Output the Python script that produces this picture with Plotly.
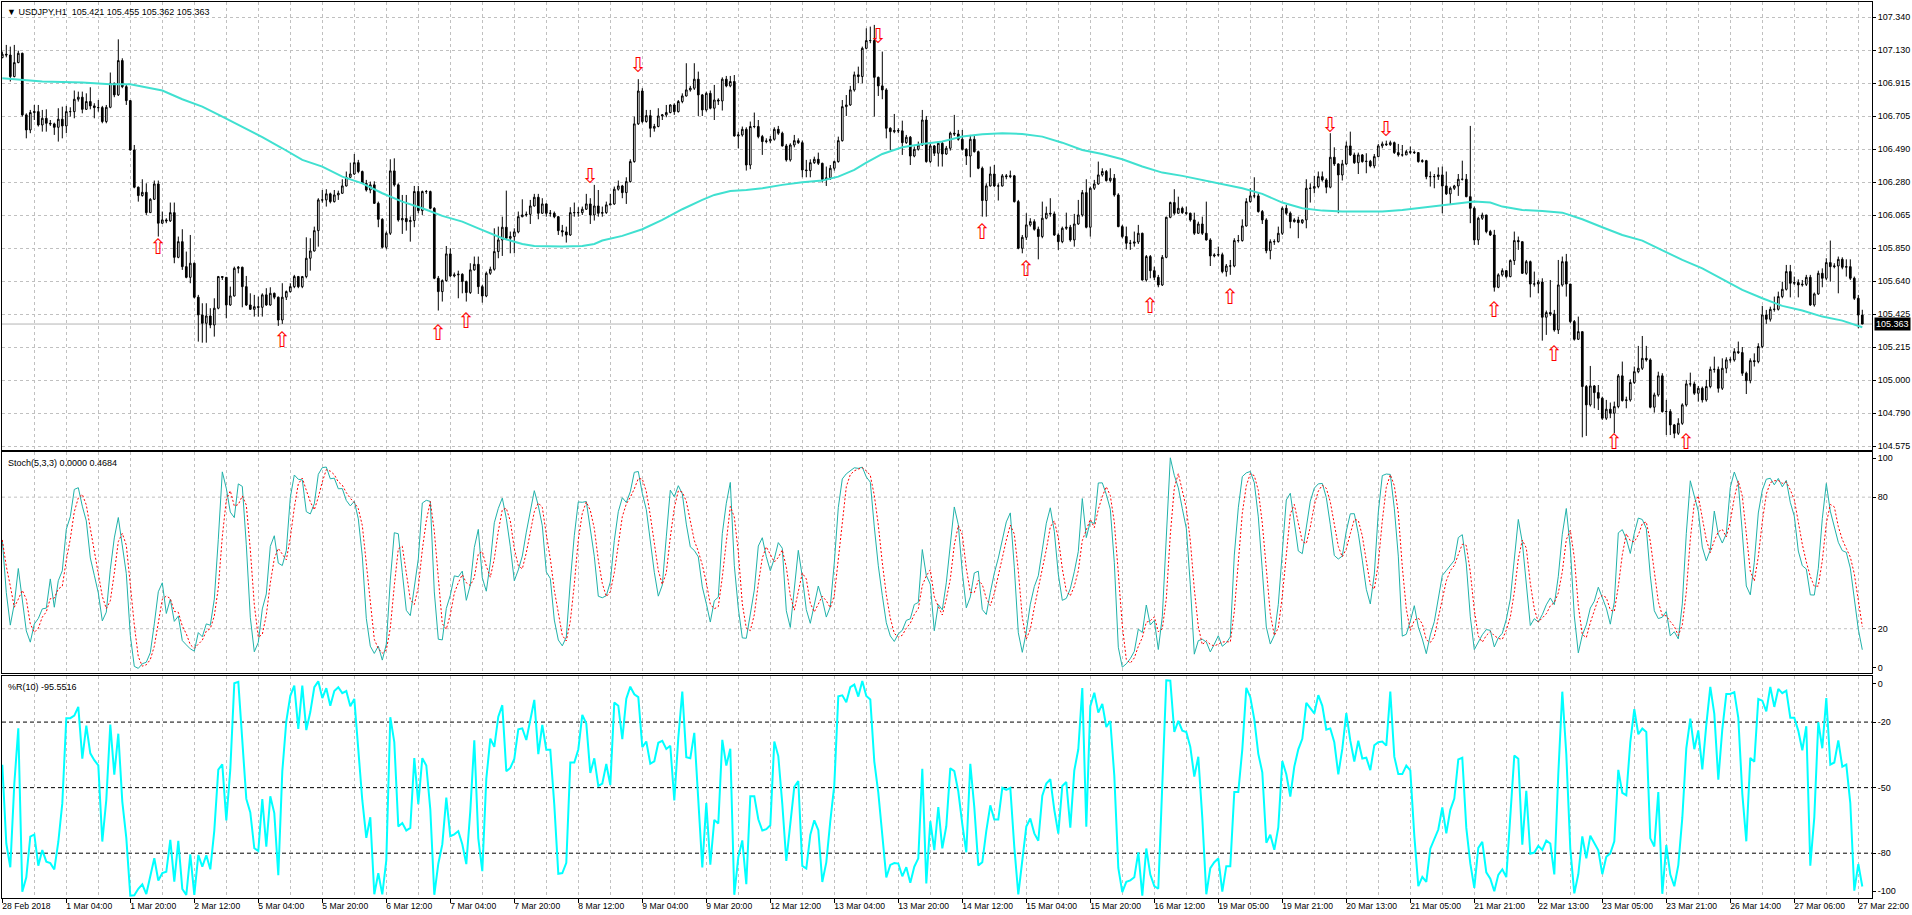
import numpy as np
import pandas as pd
import plotly.graph_objects as go

# ---------------- data (USDJPY H1) ----------------
first_open = 107.080
closes = [
107.102,107.097,106.958,107.048,107.108,106.711,106.614,106.726,106.732,106.646,
106.689,106.657,106.653,106.631,106.683,106.640,106.732,106.732,106.812,106.825,
106.747,106.797,106.769,106.758,106.758,106.668,106.760,106.915,106.840,107.061,
106.893,106.803,106.485,106.245,106.191,106.212,106.081,106.167,106.266,106.013,
106.034,106.028,106.081,105.793,105.894,105.733,105.664,105.755,105.536,105.422,
105.368,105.415,105.357,105.465,105.669,105.664,105.486,105.544,105.722,105.729,
105.604,105.486,105.458,105.475,105.471,105.551,105.486,105.561,105.536,105.389,
105.536,105.572,105.604,105.669,105.604,105.669,105.787,105.834,105.965,106.163,
106.163,106.202,106.152,106.195,106.206,106.253,106.309,106.330,106.403,106.346,
106.270,106.227,106.260,106.141,106.038,105.858,105.948,106.350,106.260,106.034,
106.043,106.023,106.030,106.217,106.094,106.217,106.217,106.109,105.658,105.572,
105.643,105.815,105.673,105.680,105.684,105.637,105.566,105.712,105.748,105.604,
105.544,105.690,105.716,105.830,105.905,105.987,105.916,105.927,105.957,106.055,
106.066,106.070,106.124,106.180,106.077,106.137,106.077,106.077,106.055,105.965,
105.957,105.937,106.081,106.081,106.081,106.103,106.137,106.066,106.124,106.077,
106.081,106.131,106.137,106.232,106.253,106.210,106.281,106.410,106.653,106.865,
106.668,106.706,106.625,106.636,106.704,106.711,106.726,106.775,106.732,106.797,
106.833,106.872,106.883,106.941,106.840,106.743,106.850,106.754,106.807,106.801,
106.941,106.898,106.926,106.575,106.582,106.618,106.388,106.636,106.636,106.571,
106.539,106.543,106.554,106.618,106.593,106.511,106.421,106.517,106.545,106.532,
106.356,106.352,106.403,106.425,106.399,106.296,106.305,106.367,106.410,106.545,
106.764,106.775,106.872,106.969,106.958,107.140,107.190,107.190,106.953,106.898,
106.872,106.625,106.603,106.610,106.608,106.532,106.567,106.446,106.489,106.517,
106.678,106.410,106.511,106.464,106.528,106.459,106.496,106.593,106.588,106.554,
106.489,106.446,106.554,106.474,106.367,106.159,106.253,106.330,106.253,106.253,
106.318,106.313,106.318,106.152,105.851,105.922,106.002,106.023,105.974,105.927,
106.045,106.077,106.073,105.937,105.894,105.980,105.987,105.905,106.008,106.066,
106.210,105.987,106.238,106.266,106.324,106.346,106.288,106.303,106.195,105.991,
105.927,105.884,105.884,105.892,105.948,105.647,105.798,105.707,105.664,105.615,
105.793,106.051,106.146,106.077,106.109,106.081,106.077,106.034,105.948,106.008,
105.948,105.905,105.802,105.808,105.810,105.701,105.737,105.737,105.901,105.901,
105.995,106.152,106.189,106.189,106.088,106.034,105.836,105.894,105.894,105.948,
106.109,106.077,106.023,106.034,106.017,106.034,106.238,106.238,106.249,106.313,
106.292,106.245,106.438,106.395,106.324,106.395,106.511,106.453,106.403,106.453,
106.410,106.412,106.382,106.442,106.511,106.524,106.519,106.532,106.468,106.453,
106.453,106.474,106.470,106.468,106.410,106.416,106.313,106.313,106.313,106.324,
106.253,106.202,106.238,106.253,106.296,106.296,106.184,106.109,105.905,106.045,
106.066,105.959,105.937,105.600,105.680,105.707,105.669,105.772,105.901,105.894,
105.690,105.765,105.621,105.621,105.634,105.407,105.437,105.428,105.325,105.615,
105.765,105.621,105.379,105.265,105.314,104.960,104.842,104.964,104.921,104.885,
104.756,104.814,104.788,104.831,105.029,104.870,104.874,104.986,105.056,105.078,
105.142,105.132,104.827,104.906,105.029,104.799,104.799,104.713,104.659,104.723,
104.842,104.977,104.977,104.917,104.949,104.874,104.960,105.071,105.071,104.949,
105.078,105.132,105.132,105.185,105.179,105.046,104.998,105.127,105.121,105.218,
105.422,105.394,105.458,105.458,105.540,105.587,105.701,105.626,105.630,105.615,
105.619,105.664,105.486,105.557,105.690,105.658,105.759,105.733,105.737,105.780,
105.729,105.733,105.658,105.529,105.421,105.363]
highs = [
107.119,107.162,107.151,107.162,107.125,107.112,106.721,106.743,106.775,106.775,
106.743,106.747,106.678,106.661,106.754,106.764,106.769,106.760,106.868,106.861,
106.861,106.850,106.889,106.786,106.807,106.769,106.775,106.984,106.919,107.198,
107.076,106.904,106.807,106.517,106.249,106.296,106.270,106.174,106.288,106.288,
106.088,106.045,106.146,106.146,105.927,105.974,105.830,105.937,105.759,105.551,
105.497,105.497,105.465,105.529,105.673,105.671,105.579,105.604,105.733,105.737,
105.733,105.673,105.561,105.551,105.540,105.561,105.594,105.600,105.566,105.540,
105.626,105.579,105.626,105.680,105.673,105.673,105.922,105.916,105.991,106.174,
106.227,106.232,106.210,106.227,106.223,106.296,106.346,106.403,106.459,106.421,
106.352,106.292,106.281,106.283,106.152,106.045,105.959,106.425,106.431,106.270,
106.195,106.195,106.056,106.253,106.253,106.223,106.227,106.223,106.116,105.673,
105.651,105.866,105.851,105.695,105.707,105.690,105.643,105.755,105.798,105.798,
105.615,105.701,105.733,105.980,105.991,106.055,106.223,105.959,105.980,106.088,
106.167,106.088,106.163,106.202,106.202,106.174,106.141,106.098,106.088,106.060,
106.002,105.991,106.116,106.146,106.116,106.120,106.202,106.174,106.260,106.227,
106.120,106.152,106.202,106.249,106.288,106.260,106.309,106.425,106.700,106.941,
106.883,106.743,106.743,106.653,106.754,106.717,106.775,106.779,106.786,106.807,
106.850,107.044,106.898,107.044,106.990,106.846,106.861,106.868,106.904,106.818,
106.953,106.962,106.962,106.968,106.603,106.636,106.631,106.668,106.726,106.678,
106.582,106.560,106.575,106.631,106.640,106.603,106.524,106.528,106.582,106.560,
106.545,106.421,106.425,106.442,106.468,106.403,106.378,106.388,106.416,106.571,
106.807,106.839,106.898,106.990,107.022,107.151,107.269,107.280,107.291,106.958,
107.119,106.883,106.631,106.717,106.625,106.674,106.582,106.575,106.507,106.539,
106.743,106.704,106.524,106.517,106.539,106.539,106.511,106.603,106.711,106.614,
106.614,106.496,106.582,106.582,106.481,106.378,106.270,106.378,106.388,106.270,
106.330,106.330,106.352,106.324,106.163,105.937,106.077,106.045,106.038,105.991,
106.152,106.120,106.174,106.088,105.948,105.991,106.081,106.002,106.073,106.163,
106.227,106.296,106.249,106.292,106.410,106.367,106.356,106.367,106.330,106.206,
106.002,105.991,105.905,105.959,106.002,105.952,105.808,105.808,105.733,105.680,
105.808,106.055,106.152,106.232,106.184,106.120,106.120,106.081,106.081,106.023,
106.055,106.152,105.916,105.819,105.862,105.823,105.750,105.776,105.916,105.937,
106.038,106.174,106.238,106.309,106.206,106.098,106.045,105.909,105.909,105.991,
106.120,106.131,106.088,106.045,106.055,106.038,106.296,106.270,106.318,106.346,
106.346,106.303,106.593,106.502,106.399,106.421,106.539,106.603,106.468,106.468,
106.459,106.464,106.421,106.459,106.524,106.539,106.545,106.545,106.539,106.524,
106.517,106.485,106.507,106.481,106.468,106.425,106.421,106.346,106.330,106.373,
106.378,106.346,106.249,106.260,106.330,106.416,106.330,106.640,106.120,106.055,
106.081,106.066,105.970,105.970,105.690,105.722,105.712,105.780,105.959,105.927,
105.862,105.776,105.772,105.701,105.647,105.658,105.450,105.647,105.454,105.776,
105.798,105.815,105.615,105.389,105.411,105.314,104.970,105.093,104.970,104.970,
104.895,104.874,104.857,104.863,105.041,105.121,104.895,105.007,105.089,105.222,
105.286,105.222,105.142,104.921,105.056,105.046,104.874,104.814,104.719,104.756,
104.852,105.003,105.050,104.992,104.964,104.960,105.003,105.089,105.153,105.089,
105.142,105.149,105.149,105.207,105.250,105.215,105.056,105.142,105.174,105.239,
105.480,105.454,105.475,105.540,105.572,105.636,105.744,105.744,105.669,105.651,
105.647,105.680,105.680,105.566,105.707,105.722,105.787,105.901,105.755,105.798,
105.793,105.780,105.780,105.669,105.551,105.455]
lows = [
107.076,107.082,106.926,106.953,107.044,106.700,106.560,106.593,106.678,106.636,
106.603,106.603,106.640,106.582,106.539,106.560,106.593,106.700,106.689,106.797,
106.721,106.743,106.747,106.689,106.732,106.657,106.657,106.754,106.825,106.833,
106.883,106.775,106.481,106.238,106.152,106.184,106.066,106.088,106.163,105.927,
106.008,106.013,106.021,105.755,105.787,105.712,105.658,105.626,105.529,105.250,
105.243,105.243,105.336,105.282,105.458,105.647,105.400,105.480,105.540,105.690,
105.471,105.480,105.454,105.411,105.411,105.411,105.480,105.480,105.523,105.351,
105.364,105.518,105.566,105.594,105.594,105.594,105.658,105.707,105.830,105.862,
106.146,106.120,106.141,106.146,106.163,106.202,106.249,106.303,106.324,106.335,
106.266,106.217,106.206,106.137,105.987,105.851,105.845,105.937,106.249,106.023,
105.944,105.965,105.894,105.987,106.077,106.066,106.202,106.103,105.652,105.450,
105.508,105.636,105.664,105.664,105.529,105.561,105.508,105.557,105.707,105.557,
105.501,105.536,105.680,105.707,105.787,105.802,105.905,105.819,105.819,105.948,
106.051,106.055,106.008,106.120,106.038,106.073,106.055,106.055,106.045,105.937,
105.927,105.888,105.931,106.055,106.055,106.066,106.098,106.008,106.030,106.055,
106.055,106.073,106.128,106.131,106.223,106.174,106.137,106.275,106.403,106.646,
106.657,106.661,106.567,106.603,106.631,106.678,106.696,106.721,106.711,106.726,
106.786,106.829,106.861,106.872,106.704,106.704,106.732,106.747,106.678,106.775,
106.739,106.889,106.889,106.571,106.496,106.571,106.352,106.361,106.625,106.560,
106.453,106.528,106.528,106.545,106.582,106.507,106.410,106.410,106.502,106.524,
106.309,106.309,106.309,106.395,106.388,106.275,106.253,106.292,106.352,106.403,
106.539,106.704,106.769,106.861,106.915,106.915,107.134,107.173,106.700,106.833,
106.812,106.560,106.485,106.593,106.593,106.453,106.524,106.388,106.438,106.481,
106.511,106.403,106.399,106.446,106.378,106.378,106.453,106.481,106.575,106.545,
106.481,106.388,106.309,106.468,106.361,106.055,106.055,106.249,106.245,106.159,
106.249,106.296,106.303,106.146,105.845,105.819,105.905,105.991,105.965,105.780,
105.916,106.038,106.055,105.931,105.841,105.884,105.970,105.894,105.862,106.002,
106.055,105.980,105.927,106.227,106.260,106.313,106.281,106.275,106.184,105.987,
105.916,105.845,105.841,105.862,105.879,105.643,105.636,105.658,105.647,105.600,
105.608,105.787,106.045,106.066,106.073,106.073,106.066,106.023,105.937,105.944,
105.937,105.901,105.737,105.793,105.798,105.690,105.669,105.680,105.729,105.888,
105.894,105.991,106.146,106.174,106.081,106.008,105.819,105.780,105.873,105.888,
105.937,106.066,105.980,106.017,105.916,106.008,105.980,106.146,106.206,106.238,
106.281,106.206,106.238,106.382,106.077,106.288,106.388,106.446,106.395,106.330,
106.403,106.335,106.373,106.367,106.438,106.496,106.511,106.511,106.459,106.442,
106.442,106.453,106.459,106.459,106.403,106.403,106.296,106.249,106.238,106.292,
106.077,106.195,106.137,106.227,106.189,106.288,106.180,106.013,105.873,105.873,
106.034,105.948,105.931,105.572,105.594,105.669,105.658,105.664,105.744,105.841,
105.686,105.680,105.535,105.604,105.561,105.256,105.293,105.415,105.314,105.299,
105.604,105.540,105.368,105.256,105.260,104.633,104.642,104.831,104.820,104.809,
104.745,104.745,104.756,104.659,104.820,104.863,104.820,104.863,104.977,105.046,
105.067,105.121,104.820,104.792,104.895,104.792,104.648,104.648,104.627,104.648,
104.713,104.831,104.960,104.906,104.863,104.857,104.863,104.949,105.050,104.921,
104.938,105.046,105.114,105.121,105.170,105.029,104.912,104.981,105.089,105.110,
105.207,105.364,105.379,105.443,105.450,105.529,105.579,105.535,105.615,105.535,
105.604,105.608,105.480,105.475,105.551,105.600,105.647,105.636,105.722,105.561,
105.716,105.669,105.647,105.518,105.336,105.362]

# moving average (cyan line), read at sample bars
ma_bars = [0,10,20,27,32,40,45,50,55,60,65,70,75,80,85,90,95,100,105,110,115,119,
           125,130,133,140,145,148,150,155,160,165,170,175,178,182,186,190,195,200,
           205,209,213,216,220,225,230,235,240,245,250,255,260,265,270,275,280,285,
           290,295,300,305,310,315,320,325,330,335,340,345,350,355,360,365,368,372,
           375,380,385,390,395,400,405,410,415,420,425,430,435,440,445,450,455,460,465]
ma_values = [106.947,106.926,106.919,106.908,106.908,106.868,106.812,106.764,106.700,106.636,
             106.567,106.496,106.421,106.378,106.313,106.270,106.206,106.152,106.109,106.060,
             106.023,105.980,105.916,105.879,105.866,105.862,105.866,105.879,105.901,105.931,
             105.974,106.034,106.103,106.163,106.195,106.221,106.227,106.238,106.260,106.277,
             106.288,106.313,106.356,106.403,106.459,106.502,106.524,106.539,106.571,106.586,
             106.593,106.588,106.571,106.532,106.485,106.459,106.425,106.378,106.339,106.318,
             106.292,106.266,106.238,106.202,106.146,106.109,106.094,106.088,106.088,106.088,
             106.098,106.113,106.131,106.146,106.152,106.146,106.120,106.098,106.092,106.081,
             106.038,105.987,105.937,105.901,105.841,105.776,105.722,105.652,105.583,105.529,
             105.480,105.450,105.411,105.385,105.342]

# signal arrows
up_bars = [39, 70, 109, 116, 245, 256, 287, 307, 373, 388, 403, 421]
up_prices = [105.851, 105.250, 105.293, 105.372, 105.948, 105.707, 105.465, 105.523,
             105.443, 105.157, 104.590, 104.590]
down_bars = [147, 159, 219, 332, 346]
down_prices = [106.309, 107.022, 107.211, 106.636, 106.610]

x_labels = ["28 Feb 2018", "1 Mar 04:00", "1 Mar 20:00", "2 Mar 12:00", "5 Mar 04:00",
            "5 Mar 20:00", "6 Mar 12:00", "7 Mar 04:00", "7 Mar 20:00", "8 Mar 12:00",
            "9 Mar 04:00", "9 Mar 20:00", "12 Mar 12:00", "13 Mar 04:00", "13 Mar 20:00",
            "14 Mar 12:00", "15 Mar 04:00", "15 Mar 20:00", "16 Mar 12:00", "19 Mar 05:00",
            "19 Mar 21:00", "20 Mar 13:00", "21 Mar 05:00", "21 Mar 21:00", "22 Mar 13:00",
            "23 Mar 05:00", "23 Mar 21:00", "26 Mar 14:00", "27 Mar 06:00", "27 Mar 22:00"]
price_labels = ["104.575", "104.790", "105.000", "105.215", "105.425", "105.640", "105.850",
                "106.065", "106.280", "106.490", "106.705", "106.915", "107.130", "107.340"]
last_price = 105.363

# ---------------- derived series ----------------
n = len(closes)
x = np.arange(n)
opens = [first_open] + closes[:-1]
hi = [max(h, o, c) for h, o, c in zip(highs, opens, closes)]
lo = [min(l, o, c) for l, o, c in zip(lows, opens, closes)]
df = pd.DataFrame({"open": opens, "high": hi, "low": lo, "close": closes})

ll5 = df["low"].rolling(5, min_periods=1).min()
hh5 = df["high"].rolling(5, min_periods=1).max()
k_line = 100 * (df["close"] - ll5).rolling(3, min_periods=1).sum() / (hh5 - ll5).rolling(3, min_periods=1).sum()
d_line = k_line.rolling(3, min_periods=1).mean()
hh10 = df["high"].rolling(10, min_periods=1).max()
ll10 = df["low"].rolling(10, min_periods=1).min()
wpr = -100 * (hh10 - df["close"]) / (hh10 - ll10)

# ---------------- figure ----------------
FONT = "Liberation Sans"
GRID = "#C0C0C0"
fig = go.Figure()

fig.add_trace(go.Candlestick(
    x=x, open=df["open"], high=df["high"], low=df["low"], close=df["close"],
    increasing=dict(line=dict(color="black", width=1), fillcolor="white"),
    decreasing=dict(line=dict(color="black", width=1), fillcolor="black"),
    whiskerwidth=0, xaxis="x", yaxis="y", hoverinfo="skip", showlegend=False))
fig.add_trace(go.Scatter(x=ma_bars, y=ma_values, mode="lines",
                         line=dict(color="#40E0D0", width=2), xaxis="x", yaxis="y",
                         hoverinfo="skip", showlegend=False))
fig.add_trace(go.Scatter(x=up_bars, y=up_prices, mode="text", text=["⇧"] * len(up_bars),
                         textfont=dict(color="red", size=21, family="DejaVu Sans"),
                         xaxis="x", yaxis="y", hoverinfo="skip", showlegend=False))
fig.add_trace(go.Scatter(x=down_bars, y=down_prices, mode="text", text=["⇩"] * len(down_bars),
                         textfont=dict(color="red", size=21, family="DejaVu Sans"),
                         xaxis="x", yaxis="y", hoverinfo="skip", showlegend=False))

fig.add_trace(go.Scatter(x=x, y=k_line, mode="lines", line=dict(color="#20B2AA", width=1),
                         xaxis="x2", yaxis="y2", hoverinfo="skip", showlegend=False))
fig.add_trace(go.Scatter(x=x, y=d_line, mode="lines",
                         line=dict(color="red", width=1, dash="2px,2px"),
                         xaxis="x2", yaxis="y2", hoverinfo="skip", showlegend=False))
fig.add_trace(go.Scatter(x=x, y=wpr, mode="lines", line=dict(color="#00FFFF", width=2),
                         xaxis="x3", yaxis="y3", hoverinfo="skip", showlegend=False))

xr = [-0.075, 467.425]
tickpos = list(range(0, 16 * len(x_labels), 16))
common_x = dict(range=xr, showline=True, linecolor="black", linewidth=1, mirror=True,
                zeroline=False, showgrid=True, gridcolor=GRID, griddash="3px,3px", gridwidth=1,
                tickmode="array", tickvals=tickpos,
                minor=dict(tickmode="linear", tick0=0, dtick=8, showgrid=True, gridcolor=GRID,
                           griddash="3px,3px", gridwidth=1),
                fixedrange=True)
axis_font = dict(family=FONT, size=9, color="black")

price_ticks = list(np.linspace(float(price_labels[0]), float(price_labels[-1]), len(price_labels)))

fig.update_layout(
    width=1912, height=915, autosize=False,
    margin=dict(l=2, r=40, t=2, b=17, pad=0),
    paper_bgcolor="white", plot_bgcolor="white",
    boxgap=0.4,
    font=dict(family=FONT, size=9, color="black"),
    xaxis=dict(common_x, anchor="y", domain=[0, 1], showticklabels=False, ticks="",
               rangeslider=dict(visible=False)),
    xaxis2=dict(common_x, anchor="y2", domain=[0, 1], showticklabels=False, ticks=""),
    xaxis3=dict(common_x, anchor="y3", domain=[0, 1], showticklabels=True, ticktext=x_labels,
                ticks="outside", ticklen=4, tickcolor="black",
                tickfont=dict(family=FONT, size=8.6, color="black"),
                ticklabelposition="outside right", ticklabeloverflow="allow",
                ticklabelshift=-1),
    yaxis=dict(domain=[0.5, 1.0], range=[104.5512, 107.4386], side="right", anchor="x",
               tickmode="array", tickvals=price_ticks, ticktext=price_labels,
               showgrid=True, gridcolor=GRID, griddash="3px,3px", gridwidth=1,
               showline=True, linecolor="black", linewidth=1, mirror=True, zeroline=False,
               ticks="outside", ticklen=3, tickcolor="black", tickfont=axis_font, fixedrange=True),
    yaxis2=dict(domain=[0.2511, 0.4978], range=[-0.2, 100.6], side="right", anchor="x2",
                tickmode="array", tickvals=[2.1, 20, 80, 97.7], ticktext=["0", "20", "80", "100"],
                showgrid=False, showline=True, linecolor="black", linewidth=1, mirror=True,
                zeroline=False, ticks="outside", ticklen=3, tickcolor="black",
                tickfont=axis_font, fixedrange=True),
    yaxis3=dict(domain=[0, 0.2478], range=[-100.5, 1.1], side="right", anchor="x3",
                tickmode="array", tickvals=[-97.3, -80, -50, -20, -2.5],
                ticktext=["-100", "-80", "-50", "-20", "0"],
                showgrid=False, showline=True, linecolor="black", linewidth=1, mirror=True,
                zeroline=False, ticks="outside", ticklen=3, tickcolor="black",
                tickfont=axis_font, fixedrange=True),
)

shapes = [
    dict(type="line", xref="x domain", yref="y", x0=0, x1=1, y0=last_price, y1=last_price,
         line=dict(color="#B4B4B4", width=1), layer="below"),
]
for lv in (20, 80):
    shapes.append(dict(type="line", xref="x2 domain", yref="y2", x0=0, x1=1, y0=lv, y1=lv,
                       line=dict(color=GRID, width=1, dash="3px,3px"), layer="below"))
for lv in (-20, -50, -80):
    shapes.append(dict(type="line", xref="x3 domain", yref="y3", x0=0, x1=1, y0=lv, y1=lv,
                       line=dict(color="black", width=1, dash="4px,3px"), layer="below"))
fig.update_layout(shapes=shapes)

annotations = [
    dict(xref="paper", yref="paper", x=0, y=0.9967, xanchor="left", yanchor="top", xshift=3,
         text="▼ USDJPY,H1\u00a0\u00a0105.421 105.455 105.362 105.363", showarrow=False,
         font=dict(family=FONT, size=9, color="black")),
    dict(xref="paper", yref="paper", x=0, y=0.4935, xanchor="left", yanchor="top", xshift=4,
         text="Stoch(5,3,3) 0.0000 0.4684", showarrow=False,
         font=dict(family=FONT, size=9, color="black")),
    dict(xref="paper", yref="paper", x=0, y=0.2435, xanchor="left", yanchor="top", xshift=4,
         text="%R(10) -95.5516", showarrow=False,
         font=dict(family=FONT, size=9, color="black")),
    dict(xref="paper", yref="y", x=1, y=last_price, xanchor="left", yanchor="middle", xshift=2,
         text="105.363", showarrow=False, bgcolor="black", borderpad=1,
         font=dict(family=FONT, size=9, color="white")),
]
fig.update_layout(annotations=annotations)

fig.write_html("out.html", config={"displayModeBar": False})
